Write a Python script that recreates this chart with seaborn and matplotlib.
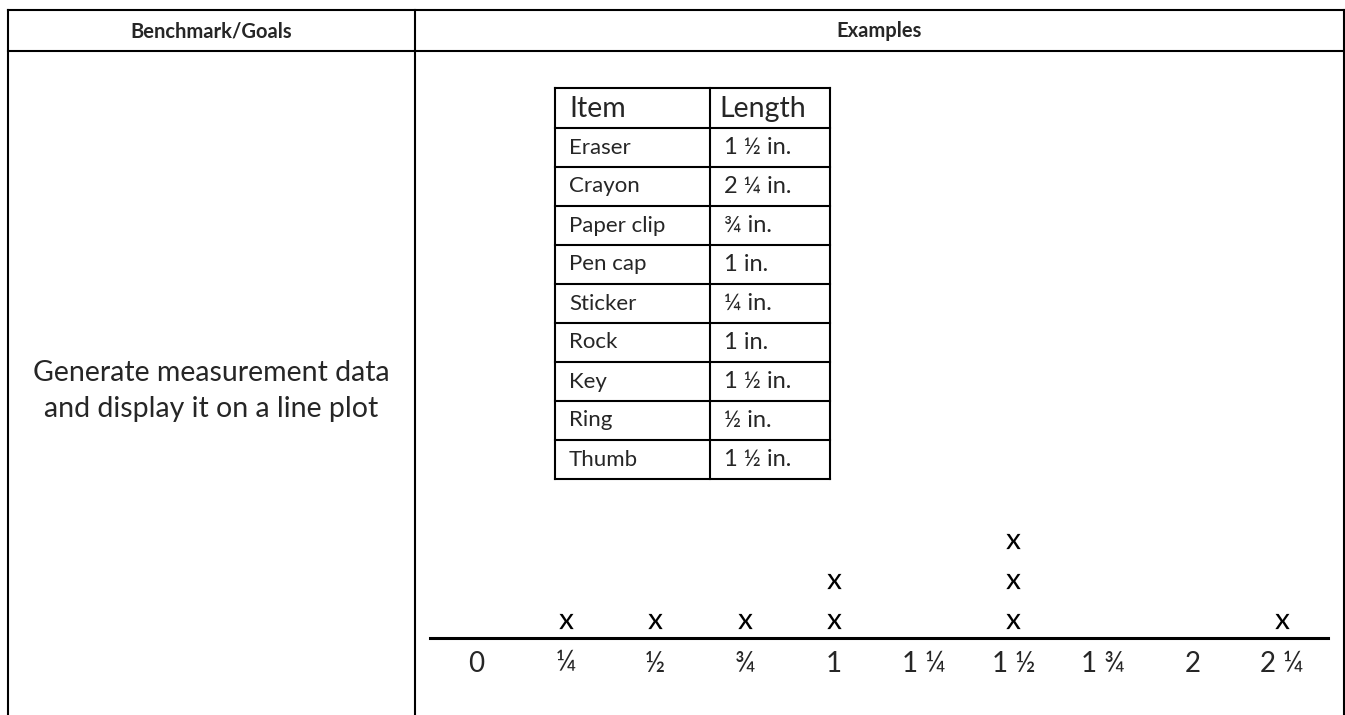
import matplotlib
matplotlib.use("Agg")
import matplotlib.pyplot as plt
import pandas as pd
import seaborn as sns

# table data
col_headers = ["Benchmark/Goals", "Examples"]
goal_lines = ["Generate measurement data", "and display it on a line plot"]
table_headers = ["Item", "Length"]
items = ["Eraser", "Crayon", "Paper clip", "Pen cap", "Sticker", "Rock", "Key", "Ring", "Thumb"]
lengths = [1.5, 2.25, 0.75, 1.0, 0.25, 1.0, 1.5, 0.5, 1.5]

# number line
ticks = [0, 0.25, 0.5, 0.75, 1.0, 1.25, 1.5, 1.75, 2.0, 2.25]
tick_labels = ["0", "¼", "½", "¾", "1", "1 ¼", "1 ½", "1 ¾", "2", "2 ¼"]
frac_text = dict(zip(ticks, tick_labels))

sns.set_theme(style="white")
FONT = ["Lato", "DejaVu Sans"]
plt.rcParams["font.family"] = FONT
plt.rcParams["mathtext.fontset"] = "custom"
plt.rcParams["mathtext.sf"] = "Lato"

W, H = 1345, 715
fig = plt.figure(figsize=(W / 100, H / 100), dpi=100)

# background axes in pixel units for the table frame
bg = fig.add_axes([0, 0, 1, 1])
bg.set_xlim(0, W)
bg.set_ylim(H, 0)
bg.axis("off")

lw = 1.5
left, mid, right, top, head = 8, 415, 1344, 10, 51
for x in (left, mid, right):
    bg.plot([x, x], [top, H], color="black", lw=lw, solid_capstyle="projecting")
for y in (top, head):
    bg.plot([left, right], [y, y], color="black", lw=lw, solid_capstyle="projecting")

bg.text((left + mid) / 2, 31, col_headers[0], ha="center", va="center",
        fontsize=14.5, fontweight="bold")
bg.text((mid + right) / 2, 31, col_headers[1], ha="center", va="center",
        fontsize=14.5, fontweight="bold")
bg.text((left + mid) / 2, 373, goal_lines[0], ha="center", va="center", fontsize=20.5)
bg.text((left + mid) / 2, 409, goal_lines[1], ha="center", va="center", fontsize=20.5)

# inner table of items
t_left, t_div, t_right = 555, 710, 830
t_top, t_head, row_h = 88, 128, 39
t_bot = t_head + row_h * len(items)
for x in (t_left, t_div, t_right):
    bg.plot([x, x], [t_top, t_bot], color="black", lw=lw, solid_capstyle="projecting")
for y in [t_top, t_head] + [t_head + row_h * (i + 1) for i in range(len(items))]:
    bg.plot([t_left, t_right], [y, y], color="black", lw=lw, solid_capstyle="projecting")

bg.text(t_left + 14, (t_top + t_head) / 2 + 1, table_headers[0], ha="left", va="center", fontsize=20.5)
bg.text(t_div + 9, (t_top + t_head) / 2 + 1, table_headers[1], ha="left", va="center", fontsize=20.5)
for i, (item, length) in enumerate(zip(items, lengths)):
    yc = t_head + row_h * i + row_h / 2
    bg.text(t_left + 14, yc, item, ha="left", va="center", fontsize=16)
    bg.text(t_div + 14, yc, frac_text[length] + " in.", ha="left", va="center", fontsize=17)

# line plot axes
ax_l, ax_r, ax_b, ax_t = 430, 1328, 638, 521
ax = fig.add_axes([ax_l / W, (H - ax_b) / H, (ax_r - ax_l) / W, (ax_b - ax_t) / H])
ax.patch.set_alpha(0)

df = pd.DataFrame({"item": items, "length": lengths})
df["count"] = df.groupby("length").cumcount() + 1

sns.scatterplot(data=df, x="length", y="count", ax=ax, marker=r"$\mathsf{x}$",
                s=120, color="black", linewidth=0, legend=False)

ax.set_xlim(-0.1284, 2.3784)
ax.set_ylim(0.575, 3.5)
ax.set_xticks(ticks)
ax.set_xticklabels(tick_labels, fontsize=20)
ax.set_yticks([])
ax.set_xlabel("")
ax.set_ylabel("")
ax.tick_params(axis="x", length=0, pad=9)
for side in ("top", "left", "right"):
    ax.spines[side].set_visible(False)
ax.spines["bottom"].set_linewidth(2.2)
ax.spines["bottom"].set_color("black")

fig.savefig("out.png", dpi=100)
